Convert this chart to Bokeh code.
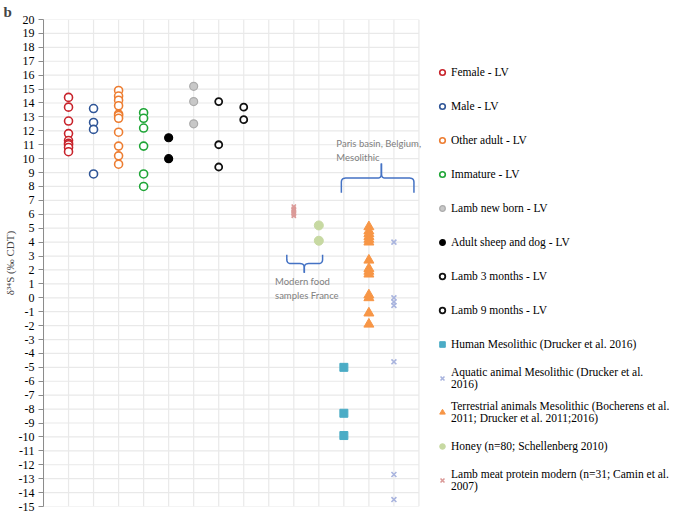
import numpy as np
from bokeh.plotting import figure
from bokeh.models import Legend, LegendItem, FixedTicker, Range1d
from bokeh.core.properties import value
from bokeh.embed import file_html
from bokeh.resources import INLINE

# ---------------- data ----------------
series_names = [
    "Female - LV",
    "Male - LV",
    "Other adult - LV",
    "Immature - LV",
    "Lamb new born - LV",
    "Adult sheep and dog - LV",
    "Lamb 3 months - LV",
    "Lamb 9 months - LV",
    "Human Mesolithic (Drucker et al. 2016)",
    "Aquatic animal Mesolithic (Drucker et al.\n2016)",
    "Terrestrial animals Mesolithic (Bocherens et al.\n2011; Drucker et al. 2011;2016)",
    "Honey (n=80; Schellenberg 2010)",
    "Lamb meat protein modern (n=31; Camin et al.\n2007)",
]
# category position of each series on the (hidden) x axis
series_pos = [1, 2, 3, 4, 6, 5, 7, 8, 12, 14, 13, 11, 10]

female = [14.4, 13.7, 12.7, 11.8, 11.3, 11.1, 11.0, 10.8, 10.5]
male = [13.6, 12.6, 12.1, 8.9]
other_adult = [14.9, 14.5, 14.2, 13.8, 13.2, 13.1, 12.9, 11.9, 10.9, 10.2, 9.6]
immature = [13.3, 12.9, 12.2, 10.9, 8.9, 8.0]
lamb_new_born = [15.2, 14.1, 12.5]
adult_sheep_dog = [11.5, 10.0]
lamb_3_months = [14.1, 11.0, 9.4]
lamb_9_months = [13.7, 12.8]
human_meso = [-5.0, -8.3, -9.9]
aquatic_meso = [4.0, 0.0, -0.3, -0.55, -4.6, -12.7, -14.5]
terrestrial_meso = [5.1, 4.8, 4.6, 4.4, 4.2, 4.0, 2.7, 2.1, 1.9, 1.7, 0.2, 0.0, -1.1, -1.9]
honey = [5.2, 4.1]
lamb_meat_modern = [6.55, 6.4, 6.3, 6.2, 6.1, 6.0, 5.9]

series_values = [female, male, other_adult, immature, lamb_new_born, adult_sheep_dog,
                 lamb_3_months, lamb_9_months, human_meso, aquatic_meso,
                 terrestrial_meso, honey, lamb_meat_modern]

y_ticks = list(range(-15, 21))
y_tick_labels = {t: str(t) for t in y_ticks}
x_grid = list(range(0, 16))          # category slots 0..15 (plot area)
x_view_end = 25.01                   # extra room on the right for the legend

# ---------------- styles ----------------
styles = [
    dict(marker="circle", size=8, line_color="#C8232B", fill_color="white", line_width=1.6),
    dict(marker="circle", size=8, line_color="#2F5597", fill_color="white", line_width=1.6),
    dict(marker="circle", size=8, line_color="#ED7D31", fill_color="white", line_width=1.6),
    dict(marker="circle", size=8, line_color="#1FA637", fill_color="white", line_width=1.6),
    dict(marker="circle", size=8, line_color="#ABABAB", fill_color="#C8C8C8", line_width=1.2),
    dict(marker="circle", size=8, line_color="#000000", fill_color="#000000", line_width=1.2),
    dict(marker="circle", size=7, line_color="#111111", fill_color="white", line_width=1.8),
    dict(marker="circle", size=7, line_color="#111111", fill_color="white", line_width=1.8),
    dict(marker="square", size=8, line_color="#4BACC6", fill_color="#4BACC6", line_width=1),
    dict(marker="x", size=7, line_color="#A9B4DE", fill_color=None, line_width=1.6),
    dict(marker="triangle", size=10, line_color="#F79646", fill_color="#F79646", line_width=1),
    dict(marker="circle", size=9, line_color="#C7D9A2", fill_color="#C7D9A2", line_width=1),
    dict(marker="x", size=6, line_color="#DB9A98", fill_color=None, line_width=1.6),
]

# ---------------- figure ----------------
p = figure(width=669, height=513, output_backend="svg", toolbar_location=None,
           x_range=Range1d(0, x_view_end), y_range=Range1d(-15, 20),
           min_border_left=37, min_border_right=0, min_border_top=19, min_border_bottom=7)
p.outline_line_color = None
p.xaxis.visible = False
p.xgrid.visible = False
p.ygrid.visible = False
p.yaxis.ticker = FixedTicker(ticks=y_ticks)

# grid lines limited to the plot area (x 0..15)
grid_color = "#E9E9E9"
p.segment(x0=[x_grid[0]] * len(y_ticks), x1=[x_grid[-1]] * len(y_ticks),
          y0=y_ticks, y1=y_ticks, line_color=grid_color, line_width=1.2)
p.segment(x0=x_grid, x1=x_grid, y0=[y_ticks[0]] * len(x_grid), y1=[y_ticks[-1]] * len(x_grid),
          line_color=grid_color, line_width=1.2)

p.title.text = "b"
p.title.align = "left"
p.title.offset = -40
p.title.standoff = 0
p.title.text_font = "Liberation Serif"
p.title.text_font_size = "15px"
p.title.text_font_style = "bold"
p.title.text_line_height = 0.8

ax = p.yaxis[0]
ax.axis_line_color = "#8C8C8C"
ax.major_tick_line_color = "#8C8C8C"
ax.minor_tick_line_color = None
ax.major_tick_out = 5
ax.major_tick_in = 0
ax.major_label_standoff = 4
ax.major_label_overrides = y_tick_labels
ax.major_label_text_font = "Liberation Serif"
ax.major_label_text_font_size = "12px"
ax.major_label_text_color = "#000000"
ax.axis_label = "δ³⁴S (‰ CDT)"
ax.axis_label_text_font = "Liberation Serif"
ax.axis_label_text_font_size = "11px"
ax.axis_label_text_font_style = "normal"
ax.axis_label_standoff = 0

items = []
for name, pos, vals, st in zip(series_names, series_pos, series_values, styles):
    r = p.scatter(x=[pos] * len(vals), y=vals, **st)
    items.append(LegendItem(label=name, renderers=[r]))

# ---------------- annotation braces ----------------
def corner(p0, c, p2, n=8):
    t = np.linspace(0, 1, n)
    x = (1 - t) ** 2 * p0[0] + 2 * (1 - t) * t * c[0] + t ** 2 * p2[0]
    y = (1 - t) ** 2 * p0[1] + 2 * (1 - t) * t * c[1] + t ** 2 * p2[1]
    return list(x), list(y)

def brace(x0, x1, xm, y_end, y_mid, y_tip, rx=0.17, ry=0.3):
    s = 1 if y_tip > y_mid else -1
    xs, ys = [x0], [y_end]
    cx, cy = corner((x0, y_mid - s * ry), (x0, y_mid), (x0 + rx, y_mid))
    xs += cx; ys += cy
    cx, cy = corner((xm - rx, y_mid), (xm, y_mid), (xm, y_mid + s * ry))
    xs += cx; ys += cy
    xs += [xm]; ys += [y_tip]
    xs2, ys2 = [xm], [y_tip]
    cx, cy = corner((xm, y_mid + s * ry), (xm, y_mid), (xm + rx, y_mid))
    xs2 += cx; ys2 += cy
    cx, cy = corner((x1 - rx, y_mid), (x1, y_mid), (x1, y_mid - s * ry))
    xs2 += cx; ys2 += cy
    xs2 += [x1]; ys2 += [y_end]
    return [xs, xs2], [ys, ys2]

bx, by = brace(11.9, 14.8, 13.5, 7.55, 8.6, 9.65)
p.multi_line(bx, by, line_color="#4472C4", line_width=1.5)
bx, by = brace(9.72, 11.15, 10.42, 3.1, 2.46, 1.8)
p.multi_line(bx, by, line_color="#4472C4", line_width=1.5)

note_font = value("Lato")
p.text(x=[11.7, 11.7], y=[11.08, 10.1], text=["Paris basin, Belgium,", "Mesolithic"],
       text_font=note_font, text_font_size="9.5px", text_color="#808080",
       text_baseline="middle", text_align="left")
p.text(x=[9.25, 9.25], y=[1.18, 0.2], text=["Modern food", "samples France"],
       text_font=note_font, text_font_size="9.5px", text_color="#808080",
       text_baseline="middle", text_align="left")

legend = Legend(items=items, location=(392, 11), padding=5, margin=0, spacing=4,
                label_height=30, glyph_height=20, glyph_width=14, label_standoff=2,
                label_text_font="Liberation Serif", label_text_font_size="11.5px",
                label_text_color="#000000",
                border_line_color=None, background_fill_alpha=0)
p.add_layout(legend, "center")

open("out.html", "w").write(file_html(p, INLINE))
